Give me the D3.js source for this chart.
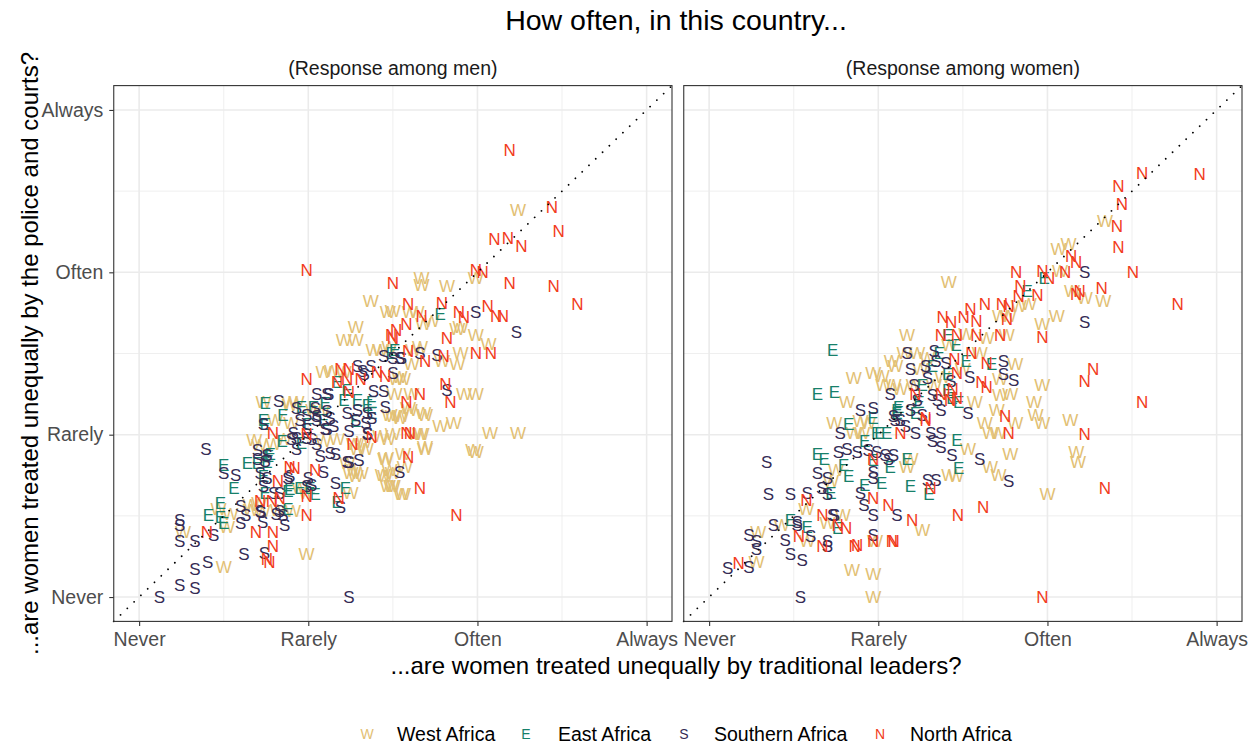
<!DOCTYPE html>
<html><head><meta charset="utf-8">
<script src="https://cdn.jsdelivr.net/npm/d3@7"></script>
<style>
html,body{margin:0;padding:0;background:#fff;}
svg{display:block;font-family:"Liberation Sans",Arial,Helvetica,sans-serif;}
</style></head>
<body><svg id="chart" width="1250" height="745"></svg>
<script>
// ---------------- DATA ----------------
const levelLabels = ["Never","Rarely","Often","Always"];
const levelValues = [0,1,2,3];
const panelTitles = ["(Response among men)","(Response among women)"];
const regionNames = ["West Africa","East Africa","Southern Africa","North Africa"];
const regionLetters = ["W","E","S","N"];

// men: [traditional leaders, police and courts]
const menWest = [[2.24,2.38],[1.67,1.965],[1.67,1.92],[1.82,1.91],[1.99,1.96],[1.37,1.82],[1.47,1.75],[1.28,1.66],[1.21,1.58],[1.28,1.58],[1.88,1.65],[1.90,1.66],[1.99,1.61],[2.065,1.555],[1.68,1.68],[1.73,1.70],[1.60,1.75],[1.64,1.75],[1.50,1.76],[1.90,1.50],[1.88,1.43],[1.79,1.45],[1.61,1.43],[1.54,1.355],[1.92,1.25],[1.99,1.25],[1.61,1.25],[1.51,1.25],[1.60,1.15],[1.69,1.12],[1.50,1.11],[1.55,1.11],[1.78,1.05],[1.86,1.07],[2.075,1.005],[2.24,1.005],[1.63,1.0],[1.67,1.0],[1.50,1.0],[1.69,0.91],[1.99,0.89],[1.57,0.80],[1.50,0.76],[1.55,0.63],[1.50,0.68],[0.99,0.26],[0.50,0.185],[0.26,0.40],[0.47,0.54],[0.52,0.43],[0.71,0.575],[0.66,0.565],[0.54,0.51],[1.28,0.74],[1.25,0.76],[1.455,0.85],[1.455,0.74],[1.47,0.68],[1.29,0.91],[1.34,0.91],[0.735,1.20],[0.805,1.09],[0.89,1.18],[0.90,1.07],[0.68,0.965],[0.71,0.935],[1.385,1.52],[1.425,1.52],[1.48,1.54],[1.62,1.52],[1.66,1.54],[1.09,1.38],[1.14,1.39],[1.21,1.38],[1.52,1.34],[1.56,1.34],[0.89,1.20],[0.93,1.20],[1.03,1.15],[1.08,1.14],[1.48,1.12],[1.54,1.10],[1.59,1.16],[1.68,1.13],[0.795,0.94],[0.855,0.97],[1.09,0.96],[1.17,0.97],[1.27,0.94],[1.33,0.95],[1.425,0.99],[1.47,0.97],[1.66,1.00],[1.69,0.92],[1.975,0.905],[1.46,0.855],[1.56,0.875],[1.23,0.82],[1.27,0.78],[1.31,0.76],[1.44,0.75],[1.48,0.78],[1.49,0.68],[1.56,0.63],[0.66,0.535],[0.73,0.525],[0.82,0.535],[0.91,0.525],[0.95,0.67],[0.99,0.64],[1.25,0.64]];
const menEast = [[1.78,1.74],[0.745,1.195],[0.735,1.09],[0.745,1.065],[0.85,1.12],[0.845,0.955],[0.775,0.88],[0.96,1.17],[1.03,1.17],[1.10,1.19],[1.00,1.06],[1.09,1.09],[0.41,0.50],[0.48,0.49],[0.50,0.45],[0.48,0.575],[0.56,0.67],[0.50,0.81],[0.64,0.82],[0.70,0.82],[0.755,0.83],[0.88,0.54],[0.89,0.66],[0.95,0.67],[1.01,0.67],[1.04,0.63],[1.22,0.67],[1.17,0.585],[1.51,1.52],[1.49,1.50],[1.17,1.32],[1.23,1.275],[1.21,1.21],[1.29,1.21],[1.35,1.18],[1.375,1.20],[1.375,1.13],[1.28,1.08],[0.96,0.945],[0.765,0.865],[0.735,0.74],[0.745,0.64],[0.88,0.65]];
const menSouth = [[1.99,1.75],[2.23,1.63],[1.76,1.485],[1.54,1.47],[1.50,1.47],[1.50,1.375],[1.82,1.27],[1.54,0.77],[0.12,0.0],[0.24,0.07],[0.33,0.055],[1.24,0.0],[0.33,0.17],[0.405,0.215],[0.62,0.26],[0.74,0.27],[0.24,0.47],[0.24,0.44],[0.24,0.34],[0.33,0.34],[0.44,0.38],[0.60,0.45],[0.50,0.76],[0.57,0.75],[0.395,0.91],[0.73,0.46],[0.63,0.50],[0.72,0.52],[0.81,0.51],[0.85,0.50],[0.86,0.44],[0.88,0.73],[0.99,0.68],[1.09,0.77],[1.05,1.25],[1.11,1.25],[1.16,0.70],[1.19,0.55],[1.24,0.83],[1.30,0.84],[1.24,1.02],[1.35,1.01],[0.825,1.205],[0.70,0.90],[0.755,0.87],[0.93,0.975],[0.93,0.91],[0.99,0.975],[0.99,1.12],[1.05,1.11],[1.13,1.10],[1.11,1.03],[1.29,1.42],[1.37,1.42],[1.32,1.39],[1.33,1.37],[1.445,1.48],[1.55,1.47],[1.66,1.50],[1.12,1.245],[1.385,1.265],[1.445,1.265],[1.455,1.17],[0.93,1.16],[1.04,1.16],[1.11,1.14],[0.95,1.09],[1.05,1.09],[1.23,1.13],[1.29,1.15],[1.35,1.13],[1.28,1.09],[1.34,1.07],[1.375,1.10],[1.35,1.00],[0.735,1.06],[0.91,1.01],[0.99,1.03],[1.10,1.03],[1.15,1.05],[0.90,0.97],[1.02,0.97],[1.05,0.94],[1.07,0.865],[1.13,0.885],[1.16,0.875],[1.23,0.83],[0.70,0.845],[0.745,0.835],[0.715,0.76],[0.755,0.73],[0.735,0.68],[0.89,0.74],[1.00,0.73],[1.02,0.69],[0.795,0.64],[0.83,0.64],[0.83,0.525],[0.715,0.525],[0.60,0.555]];
const menNorth = [[2.19,2.75],[2.44,2.40],[2.48,2.25],[2.10,2.20],[2.18,2.21],[2.26,2.16],[1.99,2.01],[2.03,2.00],[0.99,2.01],[1.50,1.93],[2.19,1.93],[2.45,1.91],[2.59,1.80],[1.59,1.80],[1.79,1.81],[1.89,1.75],[1.92,1.72],[2.06,1.79],[2.11,1.73],[2.15,1.73],[1.82,1.59],[1.58,1.68],[1.67,1.73],[1.52,1.64],[1.50,1.59],[1.99,1.50],[2.08,1.50],[1.80,1.48],[1.69,1.45],[1.81,1.31],[1.84,1.20],[1.66,1.25],[1.58,1.20],[1.58,1.01],[1.60,1.01],[1.59,0.86],[1.66,0.67],[1.875,0.50],[0.99,1.34],[1.19,1.40],[1.24,1.40],[1.24,1.26],[1.405,1.38],[1.455,1.36],[1.49,1.61],[1.59,1.51],[0.79,1.01],[0.99,1.00],[1.375,0.98],[1.26,0.94],[0.89,0.80],[0.92,0.79],[1.04,0.78],[0.82,0.71],[0.99,0.62],[1.18,0.61],[0.715,0.59],[0.785,0.59],[0.83,0.61],[0.99,0.505],[1.17,1.32],[1.23,1.34],[1.31,1.34],[0.755,0.23],[0.77,0.215],[0.79,0.31],[0.40,0.40],[0.69,0.40],[0.79,0.40]];

// women
const womenWest = [[1.416,1.94],[1.17,1.61],[2.34,2.31],[2.065,2.14],[2.125,2.17],[2.075,2.005],[2.145,1.88],[2.22,1.84],[2.33,1.82],[2.055,1.73],[1.97,1.68],[1.83,1.79],[1.89,1.80],[1.72,1.73],[1.77,1.73],[1.52,1.62],[1.64,1.59],[1.76,1.61],[1.97,1.30],[1.92,1.20],[1.93,1.12],[1.97,1.07],[2.135,1.09],[2.17,0.89],[2.18,0.83],[2.00,0.63],[1.71,0.75],[1.66,0.80],[1.78,0.88],[1.53,0.91],[1.66,1.01],[1.71,1.01],[1.63,1.07],[1.81,1.07],[1.70,1.15],[1.72,1.24],[1.78,1.25],[1.57,1.20],[1.81,1.43],[1.72,1.34],[0.97,0.0],[0.97,0.14],[0.845,0.165],[0.58,0.34],[0.29,0.40],[0.43,0.44],[0.28,0.215],[0.575,0.54],[0.70,0.45],[0.79,0.50],[1.26,0.41],[0.72,0.71],[0.75,0.78],[1.17,0.80],[1.19,0.85],[1.42,0.75],[1.46,0.74],[0.74,1.07],[0.855,1.01],[0.905,1.01],[0.855,1.345],[0.97,1.375],[1.03,1.30],[1.09,1.30],[1.13,1.28],[1.21,1.30],[1.29,1.47],[0.815,1.20],[0.895,1.08],[0.94,1.07],[1.08,1.45],[1.155,1.50],[1.23,1.50],[1.42,1.55],[0.98,0.34],[1.10,1.42],[1.25,1.40],[1.02,1.36],[1.33,1.30],[1.50,1.40],[1.60,1.50],[1.38,1.35]];
const womenEast = [[0.73,1.52],[1.98,1.965],[1.88,1.88],[1.67,1.43],[0.58,0.43],[0.48,0.47],[0.76,0.42],[0.64,0.88],[0.68,0.85],[0.795,0.81],[0.825,0.74],[0.72,0.64],[0.92,0.69],[1.02,0.70],[0.97,0.84],[1.07,0.80],[1.17,0.85],[1.19,0.68],[1.30,0.63],[0.825,1.06],[0.92,0.955],[0.99,1.01],[1.05,1.01],[1.465,0.965],[1.475,0.79],[1.12,1.17],[1.11,1.13],[1.22,1.13],[1.24,1.20],[1.41,1.27],[1.435,1.22],[1.475,1.20],[0.64,1.25],[0.74,1.26],[0.97,1.10],[1.01,1.01],[1.11,1.15],[1.32,1.42],[1.41,1.37],[1.41,1.61],[1.46,1.55],[1.36,1.50],[1.26,1.30],[1.52,1.45]];
const womenSouth = [[2.22,2.00],[2.22,1.69],[1.77,0.71],[1.60,0.85],[1.53,1.13],[1.74,1.37],[1.80,1.335],[1.54,1.355],[1.74,1.45],[0.54,0.0],[0.97,0.38],[0.70,0.34],[0.70,0.31],[0.48,0.26],[0.55,0.225],[0.45,0.35],[0.60,0.37],[0.52,0.46],[0.52,0.44],[0.38,0.44],[0.235,0.38],[0.28,0.34],[0.28,0.29],[0.11,0.175],[0.235,0.185],[0.34,0.83],[0.35,0.63],[0.48,0.63],[0.58,0.635],[0.73,0.50],[0.74,0.50],[0.97,0.50],[1.11,0.50],[0.765,0.89],[0.815,0.91],[0.875,0.89],[0.64,0.76],[0.70,0.73],[0.665,0.67],[0.70,0.63],[0.895,0.64],[0.915,0.565],[0.97,0.77],[0.97,0.73],[1.04,0.87],[1.09,0.87],[1.06,0.85],[0.94,0.90],[0.99,0.89],[1.29,0.72],[1.34,0.72],[0.775,1.01],[1.10,1.09],[1.16,1.05],[1.22,1.01],[1.31,1.01],[1.37,1.01],[1.37,0.92],[1.435,0.87],[1.32,0.955],[1.07,1.25],[1.09,1.11],[1.13,1.09],[1.19,1.15],[1.23,1.21],[1.32,1.24],[1.35,1.21],[1.37,1.15],[1.19,1.40],[1.34,1.45],[1.29,1.345],[1.40,1.44],[0.895,1.15],[0.97,1.16],[1.33,1.51],[1.17,1.50],[1.21,1.30],[1.28,1.42],[1.43,1.33],[1.26,1.12]];
const womenNorth = [[2.56,2.61],[2.90,2.60],[2.42,2.53],[2.44,2.42],[2.41,2.28],[2.42,2.15],[2.505,2.00],[2.14,2.095],[2.17,2.06],[2.105,2.00],[1.815,2.00],[1.97,2.005],[2.01,1.965],[1.84,1.915],[1.94,1.86],[1.83,1.85],[2.17,1.865],[2.19,1.88],[2.32,1.90],[2.77,1.80],[1.97,1.60],[1.63,1.80],[1.73,1.80],[1.77,1.79],[1.545,1.77],[1.505,1.72],[1.58,1.70],[1.76,1.71],[1.58,1.61],[1.72,1.61],[1.38,1.72],[1.43,1.69],[1.37,1.61],[1.465,1.61],[2.27,1.40],[2.22,1.33],[2.56,1.20],[2.22,1.00],[2.34,0.67],[1.62,0.55],[1.77,1.01],[1.75,1.11],[1.61,1.32],[1.64,1.29],[1.64,1.44],[1.97,0.0],[0.86,0.31],[0.875,0.32],[1.08,0.34],[0.97,0.34],[0.67,0.31],[0.53,0.37],[0.175,0.205],[0.575,0.595],[0.67,0.50],[0.76,0.44],[0.81,0.42],[0.97,0.605],[1.06,0.565],[1.20,0.47],[1.09,0.34],[1.31,0.67],[1.13,1.01],[0.97,0.85],[1.465,1.375],[1.465,1.22],[1.425,1.21],[1.28,1.09],[1.22,1.25],[1.28,1.10],[1.45,1.46],[1.47,0.50],[1.44,1.28],[1.37,1.25],[1.55,1.50]];

// ---------------- STYLE ----------------
const regionColors = ["#E2C074","#17806A","#352C55","#F23C20"];
const W = 1250, H = 745;
const panelsX = [[113.75,672],[683.75,1242]];
const panelY = [85.6,621.4];
const dom = [-0.15,3.15];
const pointSize = 17;

const svg = d3.select("#chart");
svg.append("rect").attr("width",W).attr("height",H).attr("fill","#fff");

const y = d3.scaleLinear().domain(dom).range([panelY[1],panelY[0]]);
const panelData = [
  [menWest,menEast,menSouth,menNorth],
  [womenWest,womenEast,womenSouth,womenNorth]
];

panelsX.forEach((rx,pi)=>{
  const x = d3.scaleLinear().domain(dom).range(rx);
  const g = svg.append("g");
  g.append("rect").attr("x",rx[0]).attr("y",panelY[0]).attr("width",rx[1]-rx[0]).attr("height",panelY[1]-panelY[0]).attr("fill","#fff");
  const minor = [0.5,1.5,2.5];
  g.selectAll(".vmin").data(minor).join("line").attr("x1",d=>x(d)).attr("x2",d=>x(d)).attr("y1",panelY[0]).attr("y2",panelY[1]).attr("stroke","#EBEBEB").attr("stroke-width",0.8);
  g.selectAll(".hmin").data(minor).join("line").attr("y1",d=>y(d)).attr("y2",d=>y(d)).attr("x1",rx[0]).attr("x2",rx[1]).attr("stroke","#EBEBEB").attr("stroke-width",0.8);
  g.selectAll(".vmaj").data(levelValues).join("line").attr("x1",d=>x(d)).attr("x2",d=>x(d)).attr("y1",panelY[0]).attr("y2",panelY[1]).attr("stroke","#EBEBEB").attr("stroke-width",1.6);
  g.selectAll(".hmaj").data(levelValues).join("line").attr("y1",d=>y(d)).attr("y2",d=>y(d)).attr("x1",rx[0]).attr("x2",rx[1]).attr("stroke","#EBEBEB").attr("stroke-width",1.6);

  panelData[pi].forEach((arr,ri)=>{
    g.append("g").selectAll("text").data(arr).join("text")
      .attr("x",d=>x(d[0])).attr("y",d=>y(d[1]))
      .attr("text-anchor","middle").attr("dominant-baseline","central")
      .attr("font-size",pointSize).attr("fill",regionColors[ri])
      .text(regionLetters[ri]);
  });

  g.append("line").attr("x1",x(dom[0])).attr("y1",y(dom[0])).attr("x2",x(dom[1])).attr("y2",y(dom[1]))
    .attr("stroke","#000").attr("stroke-width",1.8).attr("stroke-linecap","round").attr("stroke-dasharray","0.01 9.4");

  g.append("rect").attr("x",rx[0]).attr("y",panelY[0]).attr("width",rx[1]-rx[0]).attr("height",panelY[1]-panelY[0]).attr("fill","none").attr("stroke","#333").attr("stroke-width",1.1);

  const xa = svg.append("g").attr("transform",`translate(0,${panelY[1]})`)
    .call(d3.axisBottom(x).tickValues(levelValues).tickFormat(d=>levelLabels[d]).tickSize(4.5).tickPadding(6));
  xa.select(".domain").remove();
  xa.selectAll("line").attr("stroke","#333").attr("stroke-width",1.1);
  xa.selectAll("text").attr("font-size",19.5).attr("fill","#4D4D4D").attr("font-family","Liberation Sans, Arial, sans-serif");

  svg.append("text").attr("x",(rx[0]+rx[1])/2).attr("y",68).attr("text-anchor","middle").attr("dominant-baseline","central")
    .attr("font-size",19.5).attr("fill","#1A1A1A").text(panelTitles[pi]);
});

const ya = svg.append("g").attr("transform",`translate(${panelsX[0][0]},0)`)
  .call(d3.axisLeft(y).tickValues(levelValues).tickFormat(d=>levelLabels[d]).tickSize(4.5).tickPadding(6));
ya.select(".domain").remove();
ya.selectAll("line").attr("stroke","#333").attr("stroke-width",1.1);
ya.selectAll("text").attr("font-size",19.5).attr("fill","#4D4D4D").attr("font-family","Liberation Sans, Arial, sans-serif");

svg.append("text").attr("x",676).attr("y",20).attr("text-anchor","middle").attr("dominant-baseline","central")
  .attr("font-size",28.5).attr("fill","#000").text("How often, in this country...");
svg.append("text").attr("x",676).attr("y",665).attr("text-anchor","middle").attr("dominant-baseline","central")
  .attr("font-size",24).attr("fill","#000").text("...are women treated unequally by traditional leaders?");
svg.append("text").attr("transform",`translate(29,${(panelY[0]+panelY[1])/2}) rotate(-90)`)
  .attr("text-anchor","middle").attr("dominant-baseline","central")
  .attr("font-size",24).attr("fill","#000").text("...are women treated unequally by the police and courts?");

const legendKeyX = [367,526,684,880];
const legendLabelX = [397,558,714,910];
const lg = svg.append("g");
regionNames.forEach((nm,i)=>{
  lg.append("text").attr("x",legendKeyX[i]).attr("y",734).attr("text-anchor","middle").attr("dominant-baseline","central")
    .attr("font-size",14).attr("fill",regionColors[i]).text(regionLetters[i]);
  lg.append("text").attr("x",legendLabelX[i]).attr("y",734).attr("dominant-baseline","central")
    .attr("font-size",19.5).attr("fill","#000").text(nm);
});
</script></body></html>
